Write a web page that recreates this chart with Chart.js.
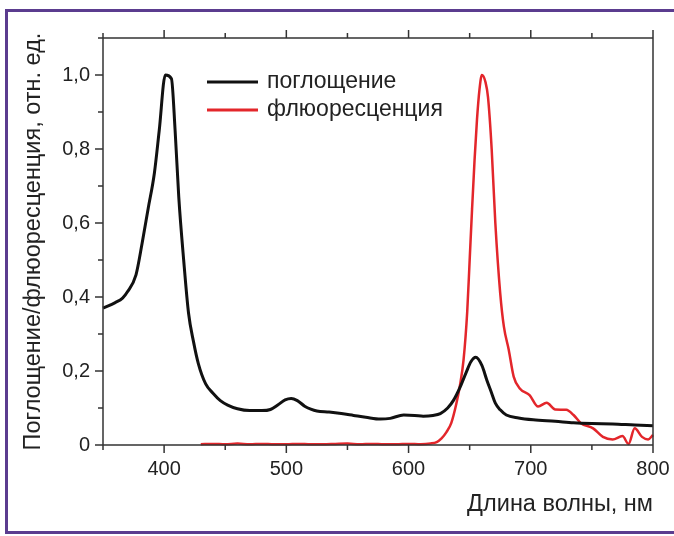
<!DOCTYPE html>
<html><head><meta charset="utf-8">
<script src="https://cdn.jsdelivr.net/npm/chart.js@4.4.1/dist/chart.umd.min.js"></script>
<style>
html,body{margin:0;padding:0;background:#fff;overflow:hidden;width:674px;height:536px;}
#frame{position:absolute;left:5px;top:9px;width:720px;height:519px;border:3px solid #5b3c8f;}
#c{position:absolute;left:0;top:0;}
</style></head><body>
<div id="frame"></div>
<canvas id="c" width="674" height="536"></canvas>
<script>
const seriesLabels = ['поглощение', 'флюоресценция'];
const xTitle = 'Длина волны, нм';
const yTitle = 'Поглощение/флюоресценция, отн. ед.';

const absWavelength = [350,360,366,370,377,382,387,392,396,401,406,409,412,416,420,424,428,434,440,446,452,460,470,480,487,493,499,504,509,515,520,525,535,545,555,565,577,585,596,605,612,620,626,632,637,642,647,651,655,660,664,668,671,675,680,690,702,720,735,750,767,785,800];
const absValues = [0.37,0.385,0.397,0.414,0.46,0.545,0.64,0.734,0.85,1.0,0.99,0.85,0.67,0.5,0.356,0.28,0.22,0.165,0.14,0.12,0.108,0.098,0.093,0.093,0.096,0.108,0.122,0.126,0.12,0.105,0.097,0.092,0.089,0.085,0.08,0.075,0.07,0.072,0.081,0.08,0.078,0.08,0.085,0.1,0.122,0.155,0.195,0.225,0.237,0.215,0.176,0.14,0.113,0.095,0.081,0.073,0.068,0.064,0.06,0.058,0.057,0.054,0.052];

const fluoWavelength = [430,440,450,460,470,480,490,500,510,520,530,540,550,560,570,580,590,600,610,618,623,627,631,635,639,642,645,648,650,652,654,656,658,660,663,665,668,671,675,678,682,686,691,699,706,713,720,729,735,741,751,759,767,775,780,785,791,796,800];
const fluoValues = [0.002,0.003,0.002,0.004,0.002,0.003,0.002,0.002,0.003,0.002,0.002,0.003,0.004,0.002,0.003,0.002,0.002,0.003,0.002,0.004,0.008,0.018,0.035,0.06,0.11,0.16,0.23,0.36,0.5,0.64,0.77,0.88,0.96,1.0,0.98,0.94,0.8,0.6,0.41,0.32,0.257,0.185,0.153,0.135,0.104,0.114,0.096,0.095,0.081,0.059,0.045,0.022,0.015,0.024,0.003,0.045,0.022,0.015,0.027];

const AXIS_COLOR = '#333';
const FONT = "'Liberation Sans', Arial, sans-serif";

const framePlugin = {
  id: 'frame',
  afterDatasetsDraw(chart) {
    const {ctx, chartArea: {left, right, top, bottom}, scales: {x, y}} = chart;
    ctx.save();
    ctx.strokeStyle = AXIS_COLOR;
    ctx.lineWidth = 1.5;
    ctx.beginPath();
    ctx.moveTo(left, top); ctx.lineTo(right, top);
    ctx.moveTo(left, bottom); ctx.lineTo(right, bottom);
    ctx.moveTo(left, top); ctx.lineTo(left, bottom);
    ctx.moveTo(right, top); ctx.lineTo(right, bottom);
    for (let v = x.min; v <= x.max; v += 50) {
      const px = x.getPixelForValue(v);
      const len = v % 100 === 0 ? 8 : 5;
      ctx.moveTo(px, bottom); ctx.lineTo(px, bottom + len);
      ctx.moveTo(px, top); ctx.lineTo(px, top - len);
    }
    for (let i = 0; i <= 11; i++) {
      const py = y.getPixelForValue(i / 10);
      const len = i % 2 === 0 ? 8 : 5;
      ctx.moveTo(left, py); ctx.lineTo(left - len, py);
    }
    ctx.stroke();
    ctx.restore();
  }
};

const legendPlugin = {
  id: 'customLegend',
  afterDraw(chart) {
    const ctx = chart.ctx;
    ctx.save();
    ctx.font = '23px ' + FONT;
    ctx.textBaseline = 'alphabetic';
    ctx.fillStyle = '#222';
    chart.data.datasets.forEach((ds, i) => {
      const yy = 82 + i * 28;
      ctx.strokeStyle = ds.borderColor;
      ctx.lineWidth = 3;
      ctx.beginPath();
      ctx.moveTo(207, yy); ctx.lineTo(258, yy);
      ctx.stroke();
      ctx.fillText(ds.label, 267, yy + 6);
    });
    ctx.restore();
  }
};

new Chart(document.getElementById('c'), {
  type: 'line',
  data: {
    datasets: [
      {
        label: seriesLabels[0],
        data: absWavelength.map((w, i) => ({x: w, y: absValues[i]})),
        borderColor: '#111',
        borderWidth: 3,
        pointRadius: 0,
        cubicInterpolationMode: 'monotone',
        clip: 4
      },
      {
        label: seriesLabels[1],
        data: fluoWavelength.map((w, i) => ({x: w, y: fluoValues[i]})),
        borderColor: '#e3262b',
        borderWidth: 2.5,
        pointRadius: 0,
        cubicInterpolationMode: 'monotone',
        clip: 4
      }
    ]
  },
  options: {
    responsive: false,
    animation: false,
    devicePixelRatio: 1,
    layout: {padding: {left: 0, top: 38, right: 21, bottom: 0}},
    plugins: {legend: {display: false}, tooltip: {enabled: false}},
    scales: {
      x: {
        type: 'linear', min: 350, max: 800,
        afterFit(scale) { scale.height = 91; },
        border: {display: false},
        grid: {display: true, drawOnChartArea: false, drawTicks: true, tickLength: 8, tickColor: 'transparent'},
        ticks: {
          stepSize: 50, autoSkip: false, maxRotation: 0, padding: 4,
          color: '#222', font: {family: FONT, size: 20},
          callback: v => (v % 100 === 0 && v !== 350 ? String(v) : '')
        },
        title: {display: true, text: xTitle, align: 'end', color: '#222', font: {family: FONT, size: 23.5}, padding: {top: 0, bottom: 17}}
      },
      y: {
        type: 'linear', min: 0, max: 1.1,
        afterFit(scale) { scale.width = 103; },
        border: {display: false},
        grid: {display: true, drawOnChartArea: false, drawTicks: true, tickLength: 8, tickColor: 'transparent'},
        ticks: {
          stepSize: 0.1, autoSkip: false, padding: 5,
          color: '#222', font: {family: FONT, size: 20},
          callback: v => {
            const k = Math.round(v * 10);
            if (k % 2 !== 0) return '';
            return k === 0 ? '0' : (k / 10).toFixed(1).replace('.', ',');
          }
        },
        title: {display: true, text: yTitle, color: '#222', font: {family: FONT, size: 23.5}, padding: {top: 19, bottom: 0}}
      }
    }
  },
  plugins: [framePlugin, legendPlugin]
});
</script>
</body></html>
